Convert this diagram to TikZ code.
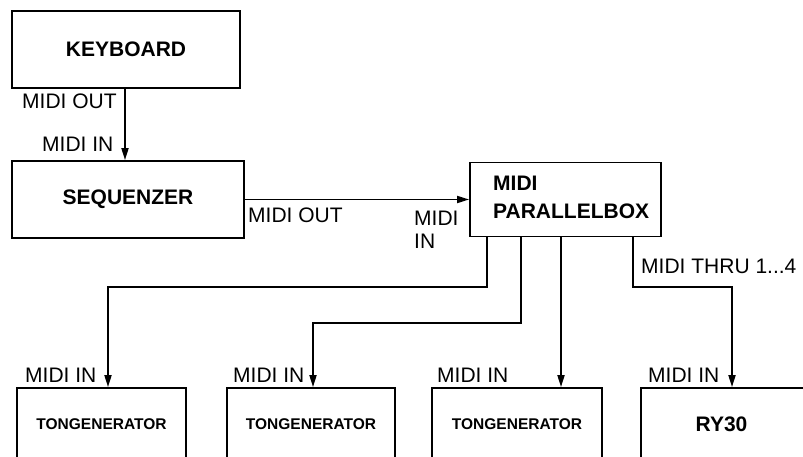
\documentclass[tikz,border=0pt]{standalone}
\usepackage{fontspec}
\setmainfont{Liberation Sans}
\usetikzlibrary{arrows.meta}
\begin{document}
\begin{tikzpicture}[x=1pt,y=-1pt,
  box/.style={draw, line width=1.8pt, rectangle, inner sep=0pt, font=\fontsize{21}{25}\selectfont\bfseries},
  tgbox/.style={box, minimum height=72pt, font=\fontsize{15.5}{18}\selectfont\bfseries},
  lbl/.style={anchor=west, inner sep=0pt, font=\fontsize{21}{24}\selectfont},
  arr/.style={line width=1.8pt, line join=miter, -{Triangle[length=12pt,width=7pt]}},
  wire/.style={line width=1.8pt}]
\useasboundingbox (0,0) rectangle (803,457);
\fill[white] (0,0) rectangle (803,457);
\clip (0,0) rectangle (803,457);
% boxes
\node[box, minimum width=228pt, minimum height=77pt] (kb) at (126,49.5) {KEYBOARD};
\node[box, minimum width=232pt, minimum height=77pt] (seq) at (128,199.5) {SEQUENZER};
\node[box, minimum width=191pt, minimum height=74pt] (pb) at (565.5,199.5) {};
\node[anchor=west, inner sep=0pt, align=left, font=\fontsize{21}{28}\selectfont\bfseries] (pbt) at (493,197) {MIDI\\PARALLELBOX};
\node[tgbox, minimum width=169pt] (tg1) at (101.5,424) {TONGENERATOR};
\node[tgbox, minimum width=168pt] (tg2) at (311,424) {TONGENERATOR};
\node[tgbox, minimum width=170pt] (tg3) at (517,424) {TONGENERATOR};
\node[box, minimum width=189pt, minimum height=72pt] (ry) at (735.5,424) {};
\node[inner sep=0pt, font=\fontsize{21}{25}\selectfont\bfseries] (ryt) at (721.5,424) {RY30};
% helper coordinates
\coordinate (kbo) at ([xshift=-1pt]kb.south);
\coordinate (s1) at ([xshift=-78.5pt]pb.south);
\coordinate (s2) at ([xshift=-44.5pt]pb.south);
\coordinate (s4) at ([xshift=67.5pt]pb.south);
\coordinate (t1) at ([xshift=6.5pt]tg1.north);
\coordinate (t2) at ([xshift=2pt]tg2.north);
\coordinate (t3) at ([xshift=44pt]tg3.north);
\coordinate (t4) at ([xshift=-3.5pt]ry.north);
\coordinate (b1) at (0,287);
\coordinate (b2) at (0,323);
% connectors
\draw[arr] (kbo) -- (kbo |- seq.north);
\draw[arr] (seq.east) -- (pb.west);
\draw[arr] (s1) |- (b1 -| t1) -- (t1);
\draw[arr] (s2) |- (b2 -| t2) -- (t2);
\draw[arr] (t3 |- pb.south) -- (t3);
\draw[arr] (s4) |- (b1 -| t4) -- (t4);
% labels
\node[lbl] (l1) at (22,101) {MIDI OUT};
\node[lbl] (l2) at (42,144) {MIDI IN};
\node[lbl] (l3) at (248,215) {MIDI OUT};
\node[lbl] (l4) at (414,218) {MIDI};
\node[lbl] (l5) at (414,241) {IN};
\node[lbl] (l6) at (641,266) {MIDI THRU 1...4};
\node[lbl] (l7) at (25,375) {MIDI IN};
\node[lbl] (l8) at (233,375) {MIDI IN};
\node[lbl] (l9) at (437,375) {MIDI IN};
\node[lbl] (l10) at (648,375) {MIDI IN};
\end{tikzpicture}
\end{document}
